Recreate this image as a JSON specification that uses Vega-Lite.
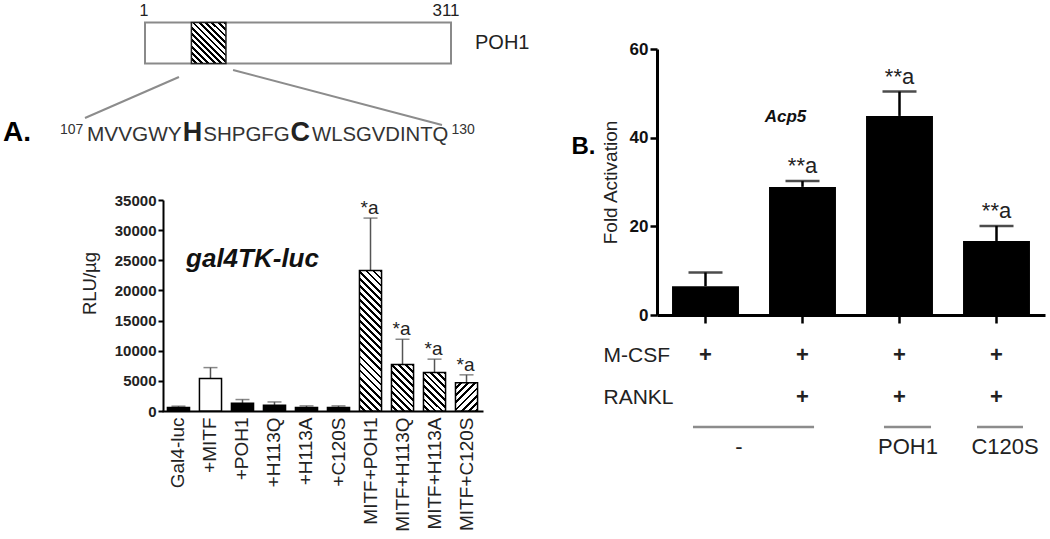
{
"$schema":"https://vega.github.io/schema/vega-lite/v6.json",
"width":1050,"height":539,"autosize":{"type":"none"},"padding":0,"background":"#ffffff",
"config":{"font":"Liberation Sans","view":{"stroke":null},"axis":{"grid":false}},
"datasets":{
 "protein":[{"part":"POH1","start":1,"end":311},{"part":"motif","start":48,"end":83}],
 "gal4":[
  {"cond":"Gal4-luc","value":600,"err":800,"sig":""},
  {"cond":"+MITF","value":5400,"err":7200,"sig":""},
  {"cond":"+POH1","value":1300,"err":1900,"sig":""},
  {"cond":"+H113Q","value":950,"err":1500,"sig":""},
  {"cond":"+H113A","value":600,"err":850,"sig":""},
  {"cond":"+C120S","value":600,"err":850,"sig":""},
  {"cond":"MITF+POH1","value":23300,"err":32000,"sig":"*a"},
  {"cond":"MITF+H113Q","value":7700,"err":11900,"sig":"*a"},
  {"cond":"MITF+H113A","value":6400,"err":8600,"sig":"*a"},
  {"cond":"MITF+C120S","value":4700,"err":6000,"sig":"*a"}
 ],
 "acp5":[
  {"cond":"M-CSF","value":6.5,"err":9.6,"sig":""},
  {"cond":"M-CSF+RANKL","value":28.9,"err":30.2,"sig":"**a"},
  {"cond":"M-CSF+RANKL+POH1","value":44.9,"err":50.4,"sig":"**a"},
  {"cond":"M-CSF+RANKL+C120S","value":16.7,"err":20.1,"sig":"**a"}
 ],
 "treat":[
  {"idx":1,"factor":"M-CSF","sign":"+"},{"idx":2,"factor":"M-CSF","sign":"+"},{"idx":3,"factor":"M-CSF","sign":"+"},{"idx":4,"factor":"M-CSF","sign":"+"},
  {"idx":2,"factor":"RANKL","sign":"+"},{"idx":3,"factor":"RANKL","sign":"+"},{"idx":4,"factor":"RANKL","sign":"+"}
 ]
},
"layer":[
 {"layer":[
  {"data":{"name":"protein"},"transform":[{"filter":"datum.part === 'POH1'"}],
   "mark":{"type":"rect","fill":"#ffffff","stroke":"#8a8a8a","strokeWidth":2},
   "encoding":{
    "x":{"field":"start","type":"quantitative","scale":{"domain":[1,311],"range":[145,451],"nice":false,"zero":false},"axis":null},
    "x2":{"field":"end"},
    "y":{"datum":0,"type":"quantitative","scale":{"domain":[0,1],"range":[63.5,22.5],"nice":false,"zero":false},"axis":null},
    "y2":{"datum":1}}},
  {"data":{"name":"protein"},"transform":[{"filter":"datum.part === 'motif'"}],
   "mark":{"type":"rect","stroke":"#222222","strokeWidth":1.5,"fill":{"gradient":"linear","x1":0,"y1":1,"x2":0.9072,"y2":-0.0778,"stops":[
    {"offset":0,"color":"#fff"},{"offset":0.0458,"color":"#fff"},{"offset":0.0458,"color":"#000"},{"offset":0.0833,"color":"#000"},
    {"offset":0.0833,"color":"#fff"},{"offset":0.1291,"color":"#fff"},{"offset":0.1291,"color":"#000"},{"offset":0.1667,"color":"#000"},
    {"offset":0.1667,"color":"#fff"},{"offset":0.2125,"color":"#fff"},{"offset":0.2125,"color":"#000"},{"offset":0.25,"color":"#000"},
    {"offset":0.25,"color":"#fff"},{"offset":0.2958,"color":"#fff"},{"offset":0.2958,"color":"#000"},{"offset":0.3333,"color":"#000"},
    {"offset":0.3333,"color":"#fff"},{"offset":0.3791,"color":"#fff"},{"offset":0.3791,"color":"#000"},{"offset":0.4167,"color":"#000"},
    {"offset":0.4167,"color":"#fff"},{"offset":0.4625,"color":"#fff"},{"offset":0.4625,"color":"#000"},{"offset":0.5,"color":"#000"},
    {"offset":0.5,"color":"#fff"},{"offset":0.5458,"color":"#fff"},{"offset":0.5458,"color":"#000"},{"offset":0.5833,"color":"#000"},
    {"offset":0.5833,"color":"#fff"},{"offset":0.6291,"color":"#fff"},{"offset":0.6291,"color":"#000"},{"offset":0.6667,"color":"#000"},
    {"offset":0.6667,"color":"#fff"},{"offset":0.7125,"color":"#fff"},{"offset":0.7125,"color":"#000"},{"offset":0.75,"color":"#000"},
    {"offset":0.75,"color":"#fff"},{"offset":0.7958,"color":"#fff"},{"offset":0.7958,"color":"#000"},{"offset":0.8333,"color":"#000"},
    {"offset":0.8333,"color":"#fff"},{"offset":0.8791,"color":"#fff"},{"offset":0.8791,"color":"#000"},{"offset":0.9167,"color":"#000"},
    {"offset":0.9167,"color":"#fff"},{"offset":0.9625,"color":"#fff"},{"offset":0.9625,"color":"#000"},{"offset":1,"color":"#000"}]}},
   "encoding":{"x":{"field":"start","type":"quantitative"},"x2":{"field":"end"},"y":{"datum":0,"type":"quantitative"},"y2":{"datum":1}}},
  {"data":{"name":"protein"},"transform":[{"filter":"datum.part === 'POH1'"}],
   "mark":{"type":"text","fontSize":16,"color":"#222222","align":"center","baseline":"middle","dx":-1},
   "encoding":{"x":{"field":"start","type":"quantitative"},"y":{"datum":1.28,"type":"quantitative"},"text":{"field":"start"}}},
  {"data":{"name":"protein"},"transform":[{"filter":"datum.part === 'POH1'"}],
   "mark":{"type":"text","fontSize":17,"color":"#222222","align":"center","baseline":"middle","dx":-5},
   "encoding":{"x":{"field":"end","type":"quantitative"},"y":{"datum":1.28,"type":"quantitative"},"text":{"field":"end"}}},
  {"data":{"name":"protein"},"transform":[{"filter":"datum.part === 'POH1'"}],
   "mark":{"type":"text","fontSize":20,"color":"#222222","align":"left","baseline":"middle","dx":24},
   "encoding":{"x":{"field":"end","type":"quantitative"},"y":{"datum":0.5,"type":"quantitative"},"text":{"field":"part"}}},
  {"data":{"values":[{}]},"mark":{"type":"rule","color":"#8c8c8c","strokeWidth":2},
   "encoding":{"x":{"datum":35.4,"type":"quantitative"},"y":{"datum":-0.329,"type":"quantitative"},"x2":{"datum":-59.8},"y2":{"datum":-1.329}}},
  {"data":{"values":[{}]},"mark":{"type":"rule","color":"#8c8c8c","strokeWidth":2},
   "encoding":{"x":{"datum":90.2,"type":"quantitative"},"y":{"datum":-0.159,"type":"quantitative"},"x2":{"datum":301.9},"y2":{"datum":-1.5}}},
  {"data":{"values":[{}]},"mark":{"type":"text","text":"A.","fontSize":28,"fontWeight":"bold","color":"#000000","align":"left","baseline":"alphabetic"},
   "encoding":{"x":{"datum":-142.9,"type":"quantitative"},"y":{"datum":-1.89,"type":"quantitative"}}},
  {"data":{"values":[{}]},"mark":{"type":"text","text":"107","fontSize":14,"color":"#333333","align":"left","baseline":"alphabetic"},
   "encoding":{"x":{"datum":-85.1,"type":"quantitative"},"y":{"datum":-1.72,"type":"quantitative"}}},
  {"data":{"values":[{}]},"mark":{"type":"text","text":"MVVGWY","fontSize":20.8,"color":"#333333","align":"left","baseline":"alphabetic"},
   "encoding":{"x":{"datum":-57.8,"type":"quantitative"},"y":{"datum":-1.89,"type":"quantitative"}}},
  {"data":{"values":[{}]},"mark":{"type":"text","text":"H","fontSize":27,"fontWeight":"bold","color":"#222222","align":"left","baseline":"alphabetic"},
   "encoding":{"x":{"datum":39.2,"type":"quantitative"},"y":{"datum":-1.89,"type":"quantitative"}}},
  {"data":{"values":[{}]},"mark":{"type":"text","text":"SHPGFG","fontSize":20.5,"color":"#333333","align":"left","baseline":"alphabetic"},
   "encoding":{"x":{"datum":60,"type":"quantitative"},"y":{"datum":-1.89,"type":"quantitative"}}},
  {"data":{"values":[{}]},"mark":{"type":"text","text":"C","fontSize":27,"fontWeight":"bold","color":"#222222","align":"left","baseline":"alphabetic"},
   "encoding":{"x":{"datum":148.4,"type":"quantitative"},"y":{"datum":-1.89,"type":"quantitative"}}},
  {"data":{"values":[{}]},"mark":{"type":"text","text":"WLSGVDINTQ","fontSize":20.3,"color":"#333333","align":"left","baseline":"alphabetic"},
   "encoding":{"x":{"datum":170.2,"type":"quantitative"},"y":{"datum":-1.89,"type":"quantitative"}}},
  {"data":{"values":[{}]},"mark":{"type":"text","text":"130","fontSize":14,"color":"#333333","align":"left","baseline":"alphabetic"},
   "encoding":{"x":{"datum":311.5,"type":"quantitative"},"y":{"datum":-1.72,"type":"quantitative"}}}
 ]},
 {"data":{"name":"gal4"},
  "layer":[
   {"mark":{"type":"rule","color":"#555555","strokeWidth":1.5},
    "encoding":{
     "x":{"field":"cond","type":"nominal","sort":null,
      "scale":{"domain":["Gal4-luc","+MITF","+POH1","+H113Q","+H113A","+C120S","MITF+POH1","MITF+H113Q","MITF+H113A","MITF+C120S"],"range":[162,483],"paddingInner":0.31,"paddingOuter":0.17},
      "axis":{"orient":"bottom","offset":-128,"title":null,"labelAngle":-90,"labelFontSize":19,"labelColor":"#222222","labelPadding":6,"ticks":false,"domainColor":"#000000","domainWidth":2}},
     "y":{"field":"value","type":"quantitative","scale":{"domain":[0,35000],"range":[411,200],"nice":false,"zero":false},
      "axis":{"orient":"left","offset":-163,"values":[0,5000,10000,15000,20000,25000,30000,35000],"format":"d","title":"RLU/µg","titleFontSize":18.5,"titleFontWeight":"normal","titleColor":"#222222","titleX":-64,"titleY":283,"labelFontSize":15,"labelFontWeight":"bold","labelColor":"#222222","labelPadding":2,"tickSize":5,"tickWidth":2,"tickColor":"#000000","domainColor":"#000000","domainWidth":2}},
     "y2":{"field":"err"}}},
   {"mark":{"type":"tick","color":"#555555","thickness":1.5,"size":14},
    "encoding":{"x":{"field":"cond","type":"nominal","sort":null},"y":{"field":"err","type":"quantitative"}}},
   {"mark":{"type":"bar","stroke":"#000000","strokeWidth":1.5},
    "encoding":{"x":{"field":"cond","type":"nominal","sort":null},"y":{"field":"value","type":"quantitative"},
     "fill":{"condition":[
      {"test":"datum.cond === '+MITF'","value":"#ffffff"},
      {"test":"datum.cond === 'MITF+POH1'","value":{"gradient":"linear","x1":0,"y1":1,"x2":0.1775,"y2":-0.1292,"stops":[
       {"offset":0,"color":"#fff"},{"offset":0.0261,"color":"#fff"},{"offset":0.0261,"color":"#000"},{"offset":0.0435,"color":"#000"},
       {"offset":0.0435,"color":"#fff"},{"offset":0.0696,"color":"#fff"},{"offset":0.0696,"color":"#000"},{"offset":0.087,"color":"#000"},
       {"offset":0.087,"color":"#fff"},{"offset":0.1131,"color":"#fff"},{"offset":0.1131,"color":"#000"},{"offset":0.1304,"color":"#000"},
       {"offset":0.1304,"color":"#fff"},{"offset":0.1565,"color":"#fff"},{"offset":0.1565,"color":"#000"},{"offset":0.1739,"color":"#000"},
       {"offset":0.1739,"color":"#fff"},{"offset":0.2,"color":"#fff"},{"offset":0.2,"color":"#000"},{"offset":0.2174,"color":"#000"},
       {"offset":0.2174,"color":"#fff"},{"offset":0.2435,"color":"#fff"},{"offset":0.2435,"color":"#000"},{"offset":0.2609,"color":"#000"},
       {"offset":0.2609,"color":"#fff"},{"offset":0.287,"color":"#fff"},{"offset":0.287,"color":"#000"},{"offset":0.3043,"color":"#000"},
       {"offset":0.3043,"color":"#fff"},{"offset":0.3304,"color":"#fff"},{"offset":0.3304,"color":"#000"},{"offset":0.3478,"color":"#000"},
       {"offset":0.3478,"color":"#fff"},{"offset":0.3739,"color":"#fff"},{"offset":0.3739,"color":"#000"},{"offset":0.3913,"color":"#000"},
       {"offset":0.3913,"color":"#fff"},{"offset":0.4174,"color":"#fff"},{"offset":0.4174,"color":"#000"},{"offset":0.4348,"color":"#000"},
       {"offset":0.4348,"color":"#fff"},{"offset":0.4609,"color":"#fff"},{"offset":0.4609,"color":"#000"},{"offset":0.4783,"color":"#000"},
       {"offset":0.4783,"color":"#fff"},{"offset":0.5043,"color":"#fff"},{"offset":0.5043,"color":"#000"},{"offset":0.5217,"color":"#000"},
       {"offset":0.5217,"color":"#fff"},{"offset":0.5478,"color":"#fff"},{"offset":0.5478,"color":"#000"},{"offset":0.5652,"color":"#000"},
       {"offset":0.5652,"color":"#fff"},{"offset":0.5913,"color":"#fff"},{"offset":0.5913,"color":"#000"},{"offset":0.6087,"color":"#000"},
       {"offset":0.6087,"color":"#fff"},{"offset":0.6348,"color":"#fff"},{"offset":0.6348,"color":"#000"},{"offset":0.6522,"color":"#000"},
       {"offset":0.6522,"color":"#fff"},{"offset":0.6783,"color":"#fff"},{"offset":0.6783,"color":"#000"},{"offset":0.6957,"color":"#000"},
       {"offset":0.6957,"color":"#fff"},{"offset":0.7217,"color":"#fff"},{"offset":0.7217,"color":"#000"},{"offset":0.7391,"color":"#000"},
       {"offset":0.7391,"color":"#fff"},{"offset":0.7652,"color":"#fff"},{"offset":0.7652,"color":"#000"},{"offset":0.7826,"color":"#000"},
       {"offset":0.7826,"color":"#fff"},{"offset":0.8087,"color":"#fff"},{"offset":0.8087,"color":"#000"},{"offset":0.8261,"color":"#000"},
       {"offset":0.8261,"color":"#fff"},{"offset":0.8522,"color":"#fff"},{"offset":0.8522,"color":"#000"},{"offset":0.8696,"color":"#000"},
       {"offset":0.8696,"color":"#fff"},{"offset":0.8957,"color":"#fff"},{"offset":0.8957,"color":"#000"},{"offset":0.913,"color":"#000"},
       {"offset":0.913,"color":"#fff"},{"offset":0.9391,"color":"#fff"},{"offset":0.9391,"color":"#000"},{"offset":0.9565,"color":"#000"},
       {"offset":0.9565,"color":"#fff"},{"offset":0.9826,"color":"#fff"},{"offset":0.9826,"color":"#000"},{"offset":1,"color":"#000"}]}},
      {"test":"datum.cond === 'MITF+H113Q'","value":{"gradient":"linear","x1":0,"y1":1,"x2":0.5727,"y2":-0.2033,"stops":[
       {"offset":0,"color":"#fff"},{"offset":0.06,"color":"#fff"},{"offset":0.06,"color":"#000"},{"offset":0.1,"color":"#000"},
       {"offset":0.1,"color":"#fff"},{"offset":0.16,"color":"#fff"},{"offset":0.16,"color":"#000"},{"offset":0.2,"color":"#000"},
       {"offset":0.2,"color":"#fff"},{"offset":0.26,"color":"#fff"},{"offset":0.26,"color":"#000"},{"offset":0.3,"color":"#000"},
       {"offset":0.3,"color":"#fff"},{"offset":0.36,"color":"#fff"},{"offset":0.36,"color":"#000"},{"offset":0.4,"color":"#000"},
       {"offset":0.4,"color":"#fff"},{"offset":0.46,"color":"#fff"},{"offset":0.46,"color":"#000"},{"offset":0.5,"color":"#000"},
       {"offset":0.5,"color":"#fff"},{"offset":0.56,"color":"#fff"},{"offset":0.56,"color":"#000"},{"offset":0.6,"color":"#000"},
       {"offset":0.6,"color":"#fff"},{"offset":0.66,"color":"#fff"},{"offset":0.66,"color":"#000"},{"offset":0.7,"color":"#000"},
       {"offset":0.7,"color":"#fff"},{"offset":0.76,"color":"#fff"},{"offset":0.76,"color":"#000"},{"offset":0.8,"color":"#000"},
       {"offset":0.8,"color":"#fff"},{"offset":0.86,"color":"#fff"},{"offset":0.86,"color":"#000"},{"offset":0.9,"color":"#000"},
       {"offset":0.9,"color":"#fff"},{"offset":0.96,"color":"#fff"},{"offset":0.96,"color":"#000"},{"offset":1,"color":"#000"}]}},
      {"test":"datum.cond === 'MITF+H113A'","value":{"gradient":"linear","x1":0,"y1":1,"x2":0.6775,"y2":-0.1843,"stops":[
       {"offset":0,"color":"#fff"},{"offset":0.0667,"color":"#fff"},{"offset":0.0667,"color":"#000"},{"offset":0.1111,"color":"#000"},
       {"offset":0.1111,"color":"#fff"},{"offset":0.1778,"color":"#fff"},{"offset":0.1778,"color":"#000"},{"offset":0.2222,"color":"#000"},
       {"offset":0.2222,"color":"#fff"},{"offset":0.2889,"color":"#fff"},{"offset":0.2889,"color":"#000"},{"offset":0.3333,"color":"#000"},
       {"offset":0.3333,"color":"#fff"},{"offset":0.4,"color":"#fff"},{"offset":0.4,"color":"#000"},{"offset":0.4444,"color":"#000"},
       {"offset":0.4444,"color":"#fff"},{"offset":0.5111,"color":"#fff"},{"offset":0.5111,"color":"#000"},{"offset":0.5556,"color":"#000"},
       {"offset":0.5556,"color":"#fff"},{"offset":0.6222,"color":"#fff"},{"offset":0.6222,"color":"#000"},{"offset":0.6667,"color":"#000"},
       {"offset":0.6667,"color":"#fff"},{"offset":0.7333,"color":"#fff"},{"offset":0.7333,"color":"#000"},{"offset":0.7778,"color":"#000"},
       {"offset":0.7778,"color":"#fff"},{"offset":0.8444,"color":"#fff"},{"offset":0.8444,"color":"#000"},{"offset":0.8889,"color":"#000"},
       {"offset":0.8889,"color":"#fff"},{"offset":0.9556,"color":"#fff"},{"offset":0.9556,"color":"#000"},{"offset":1,"color":"#000"}]}},
      {"test":"datum.cond === 'MITF+C120S'","value":{"gradient":"linear","x1":0,"y1":0,"x2":0.8634,"y2":1.1066,"stops":[
       {"offset":0,"color":"#fff"},{"offset":0.0857,"color":"#fff"},{"offset":0.0857,"color":"#000"},{"offset":0.1429,"color":"#000"},
       {"offset":0.1429,"color":"#fff"},{"offset":0.2286,"color":"#fff"},{"offset":0.2286,"color":"#000"},{"offset":0.2857,"color":"#000"},
       {"offset":0.2857,"color":"#fff"},{"offset":0.3714,"color":"#fff"},{"offset":0.3714,"color":"#000"},{"offset":0.4286,"color":"#000"},
       {"offset":0.4286,"color":"#fff"},{"offset":0.5143,"color":"#fff"},{"offset":0.5143,"color":"#000"},{"offset":0.5714,"color":"#000"},
       {"offset":0.5714,"color":"#fff"},{"offset":0.6571,"color":"#fff"},{"offset":0.6571,"color":"#000"},{"offset":0.7143,"color":"#000"},
       {"offset":0.7143,"color":"#fff"},{"offset":0.8,"color":"#fff"},{"offset":0.8,"color":"#000"},{"offset":0.8571,"color":"#000"},
       {"offset":0.8571,"color":"#fff"},{"offset":0.9429,"color":"#fff"},{"offset":0.9429,"color":"#000"},{"offset":1,"color":"#000"}]}}
     ],"value":"#000000"}}},
   {"mark":{"type":"text","fontSize":19,"color":"#222222","baseline":"alphabetic","dy":-4,"dx":-1},
    "encoding":{"x":{"field":"cond","type":"nominal","sort":null},"y":{"field":"err","type":"quantitative"},"text":{"field":"sig"}}},
   {"data":{"values":[{}]},"mark":{"type":"text","text":"gal4TK-luc","fontSize":26,"fontWeight":"bold","fontStyle":"italic","color":"#111111","align":"center","baseline":"alphabetic","dx":10},
    "encoding":{"x":{"datum":"+POH1","type":"nominal"},"y":{"datum":23900,"type":"quantitative"}}}
  ]},
 {"data":{"name":"acp5"},
  "layer":[
   {"mark":{"type":"rule","color":"#000000","strokeWidth":2.5},
    "encoding":{
     "x":{"field":"cond","type":"nominal","sort":null,
      "scale":{"domain":["M-CSF","M-CSF+RANKL","M-CSF+RANKL+POH1","M-CSF+RANKL+C120S"],"range":[657,1045],"paddingInner":0.31,"paddingOuter":0.155},
      "axis":{"orient":"bottom","offset":-224,"title":null,"labels":false,"tickSize":8,"tickWidth":2.5,"tickColor":"#000000","domainColor":"#000000","domainWidth":3}},
     "y":{"field":"value","type":"quantitative","scale":{"domain":[0,60],"range":[315,49],"nice":false,"zero":false},
      "axis":{"orient":"left","offset":-657,"values":[0,20,40,60],"title":"Fold Activation","titleFontSize":19,"titleFontWeight":"normal","titleColor":"#222222","titleX":-37,"labelFontSize":17,"labelFontWeight":"bold","labelColor":"#111111","labelPadding":2,"tickSize":7,"tickWidth":2.5,"tickColor":"#000000","domainColor":"#000000","domainWidth":3}},
     "y2":{"field":"err"}}},
   {"mark":{"type":"tick","color":"#000000","thickness":2.5,"size":34},
    "encoding":{"x":{"field":"cond","type":"nominal","sort":null},"y":{"field":"err","type":"quantitative"}}},
   {"mark":{"type":"bar","color":"#000000"},
    "encoding":{"x":{"field":"cond","type":"nominal","sort":null},"y":{"field":"value","type":"quantitative"}}},
   {"mark":{"type":"text","fontSize":22,"color":"#222222","baseline":"alphabetic","dy":-8},
    "encoding":{"x":{"field":"cond","type":"nominal","sort":null},"y":{"field":"err","type":"quantitative"},"text":{"field":"sig"}}},
   {"data":{"values":[{}]},"mark":{"type":"text","text":"Acp5","fontSize":17,"fontWeight":"bold","fontStyle":"italic","color":"#111111","align":"center","baseline":"alphabetic","dx":-17},
    "encoding":{"x":{"datum":"M-CSF+RANKL","type":"nominal"},"y":{"datum":43.6,"type":"quantitative"}}},
   {"data":{"values":[{}]},"mark":{"type":"text","text":"B.","fontSize":24,"fontWeight":"bold","color":"#000000","align":"center","baseline":"middle","dx":-122},
    "encoding":{"x":{"datum":"M-CSF","type":"nominal"},"y":{"datum":38,"type":"quantitative"}}}
  ]},
 {"data":{"name":"treat"},
  "layer":[
   {"mark":{"type":"text","fontSize":22,"fontWeight":"bold","color":"#222222","align":"center","baseline":"middle"},
    "encoding":{
     "x":{"field":"idx","type":"quantitative","scale":{"domain":[0.5,4.5],"range":[657,1045],"nice":false,"zero":false},"axis":null},
     "y":{"field":"factor","type":"nominal","scale":{"type":"point","domain":["M-CSF","RANKL"],"range":[355,397],"padding":0},
      "axis":{"orient":"left","offset":-657,"title":null,"domain":false,"ticks":false,"tickSize":0,"labelAlign":"left","labelPadding":54,"labelFontSize":21,"labelColor":"#222222","labelBaseline":"middle"}},
     "text":{"field":"sign"}}},
   {"data":{"values":[{}]},"mark":{"type":"rule","color":"#8c8c8c","strokeWidth":2.5,"yOffset":30},
    "encoding":{"x":{"datum":0.871,"type":"quantitative"},"x2":{"datum":2.119},"y":{"datum":"RANKL","type":"nominal"}}},
   {"data":{"values":[{}]},"mark":{"type":"rule","color":"#8c8c8c","strokeWidth":2.5,"yOffset":30},
    "encoding":{"x":{"datum":2.84,"type":"quantitative"},"x2":{"datum":3.325},"y":{"datum":"RANKL","type":"nominal"}}},
   {"data":{"values":[{}]},"mark":{"type":"rule","color":"#8c8c8c","strokeWidth":2.5,"yOffset":30},
    "encoding":{"x":{"datum":3.799,"type":"quantitative"},"x2":{"datum":4.273},"y":{"datum":"RANKL","type":"nominal"}}},
   {"data":{"values":[{}]},"mark":{"type":"text","text":"-","fontSize":22,"color":"#222222","align":"center","baseline":"middle","yOffset":50},
    "encoding":{"x":{"datum":1.345,"type":"quantitative"},"y":{"datum":"RANKL","type":"nominal"}}},
   {"data":{"values":[{}]},"mark":{"type":"text","text":"POH1","fontSize":22,"color":"#222222","align":"center","baseline":"middle","yOffset":50},
    "encoding":{"x":{"datum":3.088,"type":"quantitative"},"y":{"datum":"RANKL","type":"nominal"}}},
   {"data":{"values":[{}]},"mark":{"type":"text","text":"C120S","fontSize":22,"color":"#222222","align":"center","baseline":"middle","yOffset":50},
    "encoding":{"x":{"datum":4.088,"type":"quantitative"},"y":{"datum":"RANKL","type":"nominal"}}}
  ]}
],
"resolve":{"scale":{"x":"independent","y":"independent"},"axis":{"x":"independent","y":"independent"}}
}
